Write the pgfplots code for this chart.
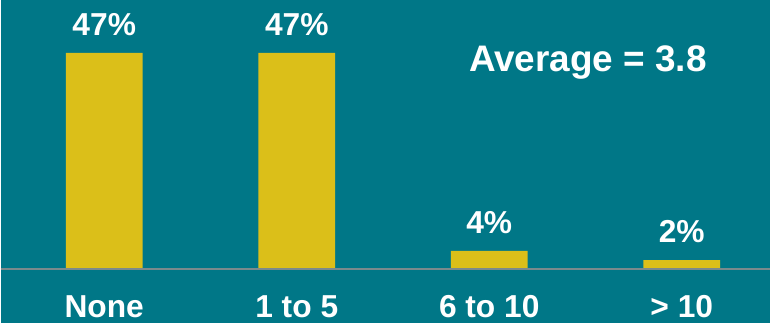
\documentclass[border=0pt]{standalone}
\usepackage{fontspec}
\setmainfont{Liberation Sans}
\usepackage{pgfplots}
\pgfplotsset{compat=1.18}
\definecolor{bgteal}{HTML}{007787}
\definecolor{baryel}{HTML}{DBBF19}
\definecolor{baseg}{HTML}{7A8A8C}
\begin{document}
\begin{tikzpicture}
\begin{axis}[
  scale only axis, width=771pt, height=324pt,
  xmin=-0.5363, xmax=3.4585, ymin=-11.695, ymax=58.48,
  enlargelimits=false, clip=false,
  axis background/.style={fill=bgteal},
  axis line style={draw=none}, major tick length=0pt,
  ytick=\empty,
  xtick={0,1,2,3},
  xticklabels={None,1 to 5,6 to 10,> 10},
  xticklabel style={anchor=base, yshift=6pt, text=white, font=\fontsize{31.8}{36}\selectfont\bfseries},
  ybar, bar width=77pt,
  nodes near coords={\pgfmathprintnumber[assume math mode=true]{\pgfplotspointmeta}\%},
  every node near coord/.append style={anchor=base, yshift=18pt, text=white, font=\fontsize{31.8}{36}\selectfont\bfseries},
]
\addplot[fill=baryel, draw=none] coordinates {(0,47) (1,47) (2,4) (3,2)};
\draw[baseg, line width=2pt] (axis cs:-0.5363,0) -- (axis cs:3.4585,0);
\node[anchor=base, text=white, font=\fontsize{37}{42}\selectfont\bfseries] at (axis cs:2.513,42.88) {Average = 3.8};
\end{axis}
\end{tikzpicture}
\end{document}
